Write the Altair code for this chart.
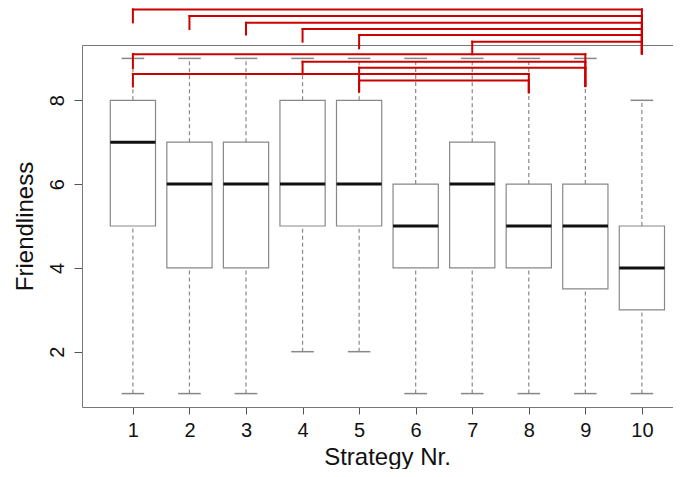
import altair as alt
import pandas as pd

# Box plot summary values per strategy
strategies = [1, 2, 3, 4, 5, 6, 7, 8, 9, 10]
lower_whisker = [1, 1, 1, 2, 2, 1, 1, 1, 1, 1]
q1 = [5, 4, 4, 5, 5, 4, 4, 4, 3.5, 3]
median = [7, 6, 6, 6, 6, 5, 6, 5, 5, 4]
q3 = [8, 7, 7, 8, 8, 6, 7, 6, 6, 5]
upper_whisker = [9, 9, 9, 9, 9, 9, 9, 9, 9, 8]

# Significance brackets (red)
bracket_left = [1, 2, 3, 4, 5, 7, 1, 4, 5, 1, 5]
bracket_right = [10, 10, 10, 10, 10, 10, 9, 9, 9, 8, 8]
bracket_level = [10.17, 10.01, 9.85, 9.70, 9.56, 9.40, 9.10, 8.92, 8.78, 8.63, 8.47]
bracket_left_end = [9.86, 9.70, 9.57, 9.40, 9.24, 9.10, 8.77, 8.63, 8.21, 8.33, 8.21]
bracket_right_end = [9.12, 9.12, 9.12, 9.12, 9.12, 9.12, 8.34, 8.34, 8.34, 8.19, 8.19]

y_ticks = [2, 4, 6, 8]

boxes = pd.DataFrame({
    "s": strategies, "lo": lower_whisker, "q1": q1,
    "med": median, "q3": q3, "hi": upper_whisker,
})

seg_rows = []
for l, r, lev, le, re in zip(bracket_left, bracket_right, bracket_level,
                             bracket_left_end, bracket_right_end):
    seg_rows.append({"x": l, "x2": r, "y": lev, "y2": lev})
    seg_rows.append({"x": l, "x2": l, "y": lev, "y2": le})
    seg_rows.append({"x": r, "x2": r, "y": lev, "y2": re})
segs = pd.DataFrame(seg_rows)

FONT = "Liberation Sans"
GRAY = "#888888"
AX = "#777777"
W, H = 591, 362
xs = alt.Scale(domain=[0.1, 10.55], nice=False, zero=False)
ys = alt.Scale(domain=[0.68, 9.32], nice=False, zero=False)

x_axis = alt.Axis(orient="bottom", values=strategies, tickSize=7, grid=False,
                  labelFontSize=20, labelPadding=6, labelFlush=False,
                  title="Strategy Nr.",
                  titleFontSize=24, titleFontWeight="normal",
                  titleX=305, titleY=57, titleAlign="center",
                  titleBaseline="alphabetic", domainColor=AX,
                  tickColor="#555555", format="d")
top_axis = alt.Axis(orient="top", labels=False, ticks=False, title=None,
                    grid=False, domainColor=AX)
y_axis = alt.Axis(orient="left", values=y_ticks, tickSize=8, grid=False,
                  labelFontSize=20, labelAngle=270, labelAlign="center",
                  labelBaseline="alphabetic", labelPadding=11,
                  title="Friendliness",
                  titleFontSize=24, titleFontWeight="normal",
                  titleAngle=270, titleX=-50, titleY=181,
                  titleAlign="center", titleBaseline="alphabetic",
                  domainColor=AX, tickColor="#555555", format="d")

base = alt.Chart(boxes).transform_calculate(
    left="datum.s - 0.4", right="datum.s + 0.4",
    capl="datum.s - 0.2", capr="datum.s + 0.2",
)

box = base.mark_rect(fill="white", stroke=GRAY, strokeWidth=1.2).encode(
    x=alt.X("left:Q", scale=xs, axis=x_axis),
    x2="right:Q",
    y=alt.Y("q1:Q", scale=ys, axis=y_axis),
    y2="q3:Q",
)
whisk_lo = base.mark_rule(color=GRAY, strokeDash=[4, 3], strokeWidth=1.2).encode(
    x=alt.X("s:Q", scale=xs, axis=top_axis),
    y=alt.Y("lo:Q", scale=ys, axis=None),
    y2="q1:Q",
)
whisk_hi = base.mark_rule(color=GRAY, strokeDash=[4, 3], strokeWidth=1.2).encode(
    x=alt.X("s:Q", scale=xs, axis=None),
    y=alt.Y("q3:Q", scale=ys, axis=None),
    y2="hi:Q",
)
cap_lo = base.mark_rule(color=GRAY, strokeWidth=1.5).encode(
    x=alt.X("capl:Q", scale=xs, axis=None), x2="capr:Q",
    y=alt.Y("lo:Q", scale=ys, axis=None),
)
cap_hi = base.mark_rule(color=GRAY, strokeWidth=1.5).encode(
    x=alt.X("capl:Q", scale=xs, axis=None), x2="capr:Q",
    y=alt.Y("hi:Q", scale=ys, axis=None),
)
med = base.mark_rule(color="#111111", strokeWidth=3).encode(
    x=alt.X("left:Q", scale=xs, axis=None), x2="right:Q",
    y=alt.Y("med:Q", scale=ys, axis=None),
)
brackets = alt.Chart(segs).mark_rule(color="#cc0000", strokeWidth=2, strokeCap="square").encode(
    x=alt.X("x:Q", scale=xs, axis=None), x2="x2:Q",
    y=alt.Y("y:Q", scale=ys, axis=None), y2="y2:Q",
)

chart = alt.layer(
    box, whisk_lo, whisk_hi, cap_lo, cap_hi, med, brackets
).resolve_axis(x="independent", y="independent").properties(
    width=W, height=H,
    padding={"left": 74, "top": 37, "right": 0, "bottom": 62},
    autosize=alt.AutoSizeParams(type="none"),
).configure(
    font=FONT,
).configure_view(stroke=None).configure_axis(
    labelColor="#111111", titleColor="#111111", labelFont=FONT, titleFont=FONT)

chart.save("out.html", embed_options={"renderer": "svg", "actions": False})
